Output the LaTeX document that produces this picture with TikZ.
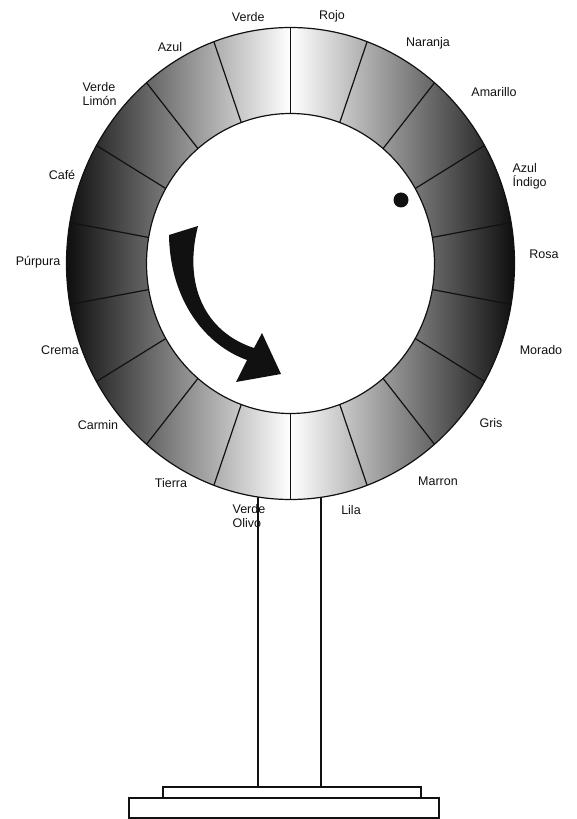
\documentclass[tikz,border=0pt]{standalone}
\usepackage{fontspec}
\setmainfont{Liberation Sans}
\usetikzlibrary{calc}
\definecolor{ink}{HTML}{111111}
\definecolor{rim}{HTML}{0E0E0E}

\begin{document}
\begin{tikzpicture}[x=1pt, y=1pt, line width=1.2pt,
  lbl/.style={font=\fontsize{12.5}{14}\selectfont, text=ink, inner sep=0pt, align=left}]
  \useasboundingbox (-290.5,-555.5) rectangle (285.5,263.5);

  % Stand
  \coordinate (plate) at (0,-523.5);
  \coordinate (poleL) at (261.66:224 and 236);
  \coordinate (poleR) at (277.83:224 and 236);
  \draw[draw=ink] (poleL) -- (poleL |- plate);
  \draw[draw=ink] (poleR) -- (poleR |- plate);
  \draw[draw=ink] (-127.5,-523.5) rectangle (130.5,-534.5);
  \draw[draw=ink] (-161.5,-534.5) rectangle (148.5,-554.5);

  % Ring, shaded dark at the sides
  \begin{scope}[even odd rule]
    \clip (0,0) ellipse [x radius=224, y radius=236]
      (0,0) ellipse [x radius=144, y radius=150];
    \shade[left color=rim, right color=white] (-224,-236) rectangle (0,236);
    \shade[left color=white, right color=rim] (0,-236) rectangle (224,236);
  \end{scope}
  \draw[draw=ink] (0,0) ellipse [x radius=224, y radius=236];
  \draw[draw=ink] (0,0) ellipse [x radius=144, y radius=150];

  % Segment borders
  \foreach \a in {90,110,...,430}
    \draw[draw=ink] (\a:144 and 150) -- (\a:224 and 236);

  % Marker dot + turning arrow
  \fill[ink] (110.5,63.5) circle [radius=7.5];
  \fill[ink] (-92.5,37.5) -- (-121.5,28.5)
    .. controls (-120.5,-36.5) and (-85.5,-81.5) .. (-43.5,-96.5)
    -- (-54.5,-118.5) -- (-9.5,-110.5) -- (-28.5,-69.5) -- (-36.5,-84.5)
    .. controls (-85.5,-68.5) and (-107.5,-21.5) .. (-92.5,37.5) -- cycle;

  % Colour names round the rim
  \foreach \nm/\x/\y/\txt in {
    rojo/41.5/247.5/Rojo,
    naranja/137.5/220.5/Naranja,
    amarillo/203.5/171.5/Amarillo,
    rosa/253.5/9.5/Rosa,
    morado/250.5/-86.5/Morado,
    gris/200.5/-159.5/Gris,
    marron/147.5/-217.5/Marron,
    lila/60.5/-246.5/Lila,
    tierra/-119.5/-219.5/Tierra,
    carmin/-192.5/-161.5/Carmin,
    crema/-230.5/-86.5/Crema,
    purpura/-252.5/1.5/Púrpura,
    cafe/-228.5/88.5/Café,
    azul/-120.5/216.5/Azul,
    verde/-40.5/246.5/Verde
  } {
    \node[lbl] (\nm) at (\x,\y) {\txt};
  }
  \node[lbl, anchor=west] (indigo) at (221.5,87) {Azul\\Índigo};
  \node[lbl, anchor=west] (olivo) at (-58.5,-252.5) {Verde\\Olivo};
  \node[lbl, anchor=west] (limon) at (-208.5,169.5) {Verde\\Limón};
\end{tikzpicture}
\end{document}
